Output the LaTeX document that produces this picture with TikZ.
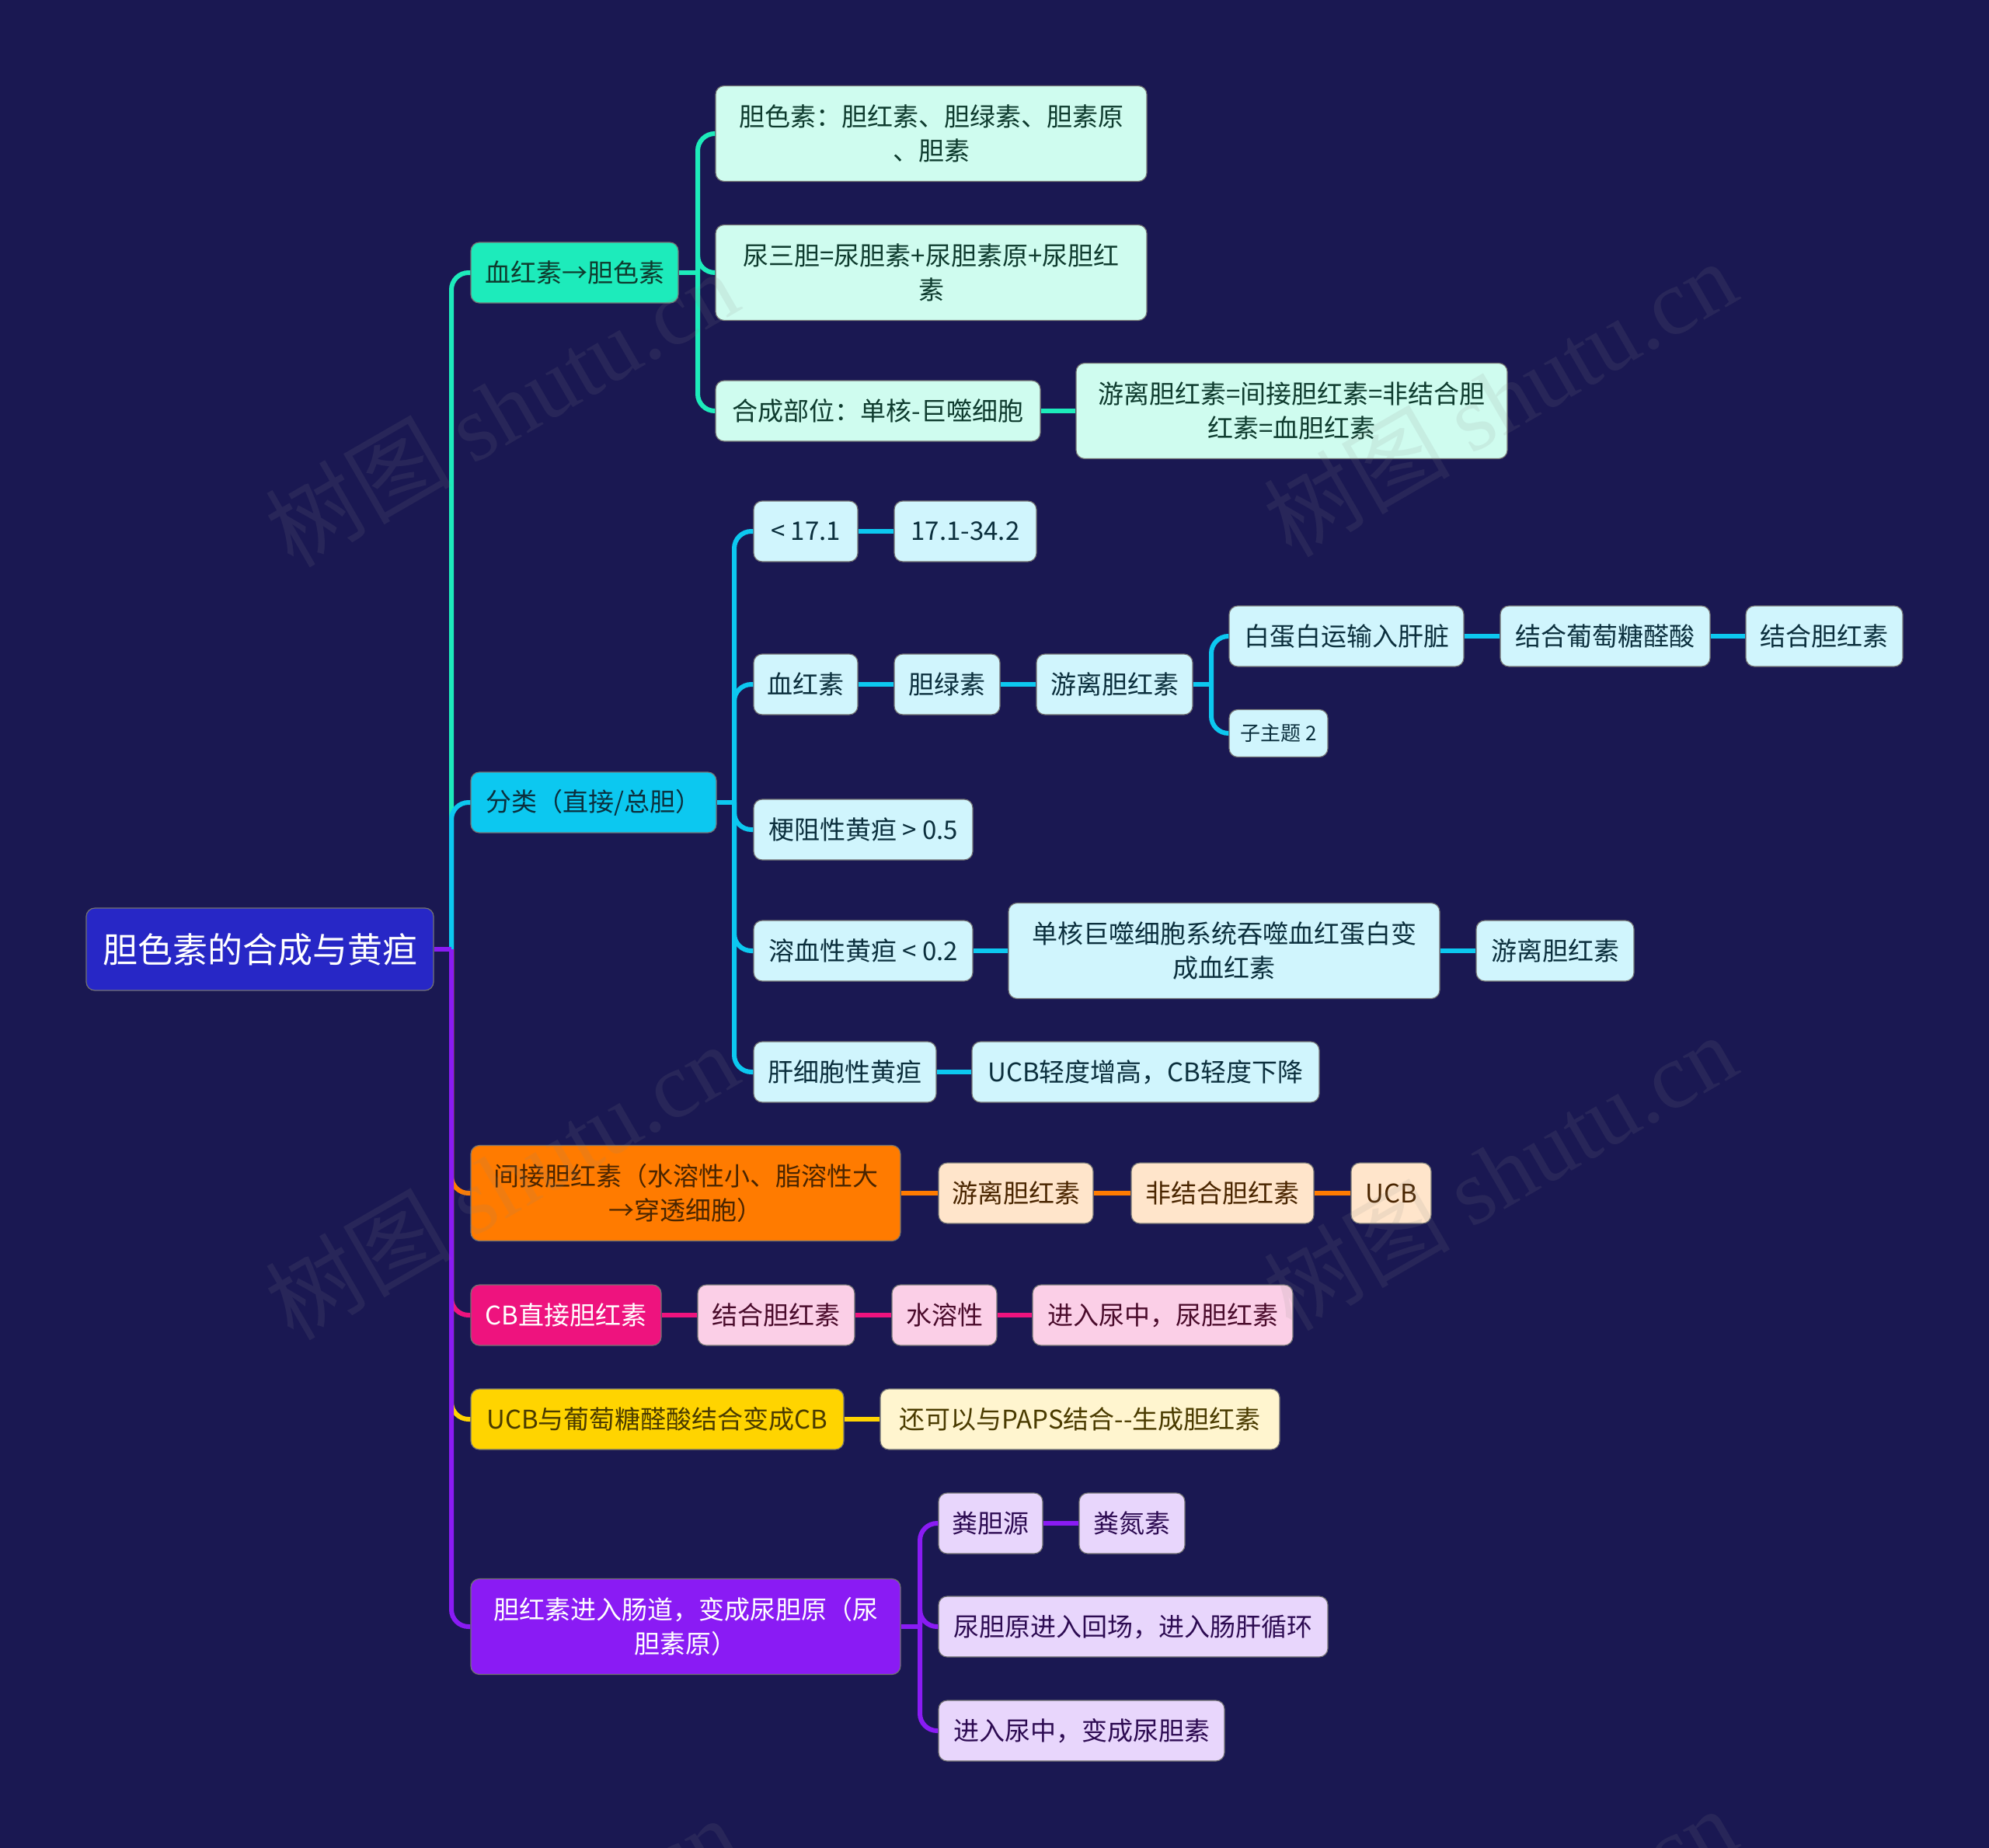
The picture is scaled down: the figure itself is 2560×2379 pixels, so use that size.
\documentclass[tikz,border=0pt]{standalone}
\usepackage{fontspec}
\setmainfont{Noto Sans CJK SC}
\newfontfamily\wmserif{Liberation Serif}
\usetikzlibrary{calc}
\definecolor{bg}{HTML}{1A1852}
\definecolor{cRoot}{HTML}{2727C6}
\definecolor{cTeal}{HTML}{1DEBBB}
\definecolor{lTeal}{HTML}{CFFCEF}
\definecolor{tTeal}{HTML}{0E3B2E}
\definecolor{cCyan}{HTML}{0CC8F0}
\definecolor{lCyan}{HTML}{D0F5FD}
\definecolor{tCyan}{HTML}{0B2F3D}
\definecolor{cOrange}{HTML}{FF7B00}
\definecolor{lOrange}{HTML}{FFE5CB}
\definecolor{tOrange}{HTML}{4A2500}
\definecolor{cPink}{HTML}{EE137E}
\definecolor{lPink}{HTML}{FBCFE7}
\definecolor{tPink}{HTML}{4A0B2B}
\definecolor{cYellow}{HTML}{FFD400}
\definecolor{lYellow}{HTML}{FFF5CF}
\definecolor{tYellow}{HTML}{4A3B00}
\definecolor{cPurple}{HTML}{8A1BF4}
\definecolor{lPurple}{HTML}{E8D6FC}
\definecolor{tPurple}{HTML}{2D0B52}
\definecolor{wmgray}{HTML}{8A8A8A}
\begin{document}
\begin{tikzpicture}[x=1pt,y=-1pt,
  box/.style={rounded corners=11pt, inner sep=0pt, align=center, minimum height=78pt,
    font=\fontsize{33}{44}\selectfont, draw=black!55, line width=1.2pt},
  tall/.style={minimum height=123pt},
  w/.style={minimum width=#1pt},
  conn/.style={line width=6pt, draw=#1, rounded corners=22pt},
  wm/.style={rotate=30, text=wmgray, opacity=0.13, inner sep=0pt,
    font=\fontsize{120}{120}\selectfont}
]
\useasboundingbox (0,0) rectangle (2560,2379);
\fill[bg] (0,0) rectangle (2560,2379);

% ---- root
\node[box, fill=cRoot, text=white, w=447, minimum height=106pt,
  font=\fontsize{45}{54}\selectfont] (root) at (334.5,1222) {胆色素的合成与黄疸};

% ---- level 1
\node[box, fill=cTeal, text=tTeal, w=267] (a) at (739.5,351) {血红素→胆色素};
\node[box, fill=cCyan, text=tCyan, w=316] (b) at (764,1033) {分类（直接/总胆）};
\node[box, fill=cOrange, text=tOrange, w=553, tall] (c) at (882.5,1536) {间接胆红素（水溶性小、脂溶性大\\→穿透细胞）};
\node[box, fill=cPink, text=white, w=245] (d) at (728.5,1693) {CB直接胆红素};
\node[box, fill=cYellow, text=tYellow, w=480] (e) at (846,1827) {UCB与葡萄糖醛酸结合变成CB};
\node[box, fill=cPurple, text=white, w=553, tall] (f) at (882.5,2094) {胆红素进入肠道，变成尿胆原（尿\\胆素原）};

% ---- teal branch
\node[box, fill=lTeal, text=tTeal, w=555, tall] (a1) at (1198.5,172) {胆色素：胆红素、胆绿素、胆素原\\、胆素};
\node[box, fill=lTeal, text=tTeal, w=555, tall] (a2) at (1198.5,351) {尿三胆=尿胆素+尿胆素原+尿胆红\\素};
\node[box, fill=lTeal, text=tTeal, w=418] (a3) at (1130,529) {合成部位：单核-巨噬细胞};
\node[box, fill=lTeal, text=tTeal, w=555, tall] (a3a) at (1662.5,529) {游离胆红素=间接胆红素=非结合胆\\红素=血胆红素};

% ---- cyan branch
\node[box, fill=lCyan, text=tCyan, w=134] (b1) at (1037,684) {< 17.1};
\node[box, fill=lCyan, text=tCyan, w=183] (b1a) at (1242.5,684) {17.1-34.2};
\node[box, fill=lCyan, text=tCyan, w=134] (b2) at (1037,881) {血红素};
\node[box, fill=lCyan, text=tCyan, w=136] (b2a) at (1219,881) {胆绿素};
\node[box, fill=lCyan, text=tCyan, w=201] (b2b) at (1434.5,881) {游离胆红素};
\node[box, fill=lCyan, text=tCyan, w=302] (b2b1) at (1733,819) {白蛋白运输入肝脏};
\node[box, fill=lCyan, text=tCyan, w=270] (b2b1a) at (2066,819) {结合葡萄糖醛酸};
\node[box, fill=lCyan, text=tCyan, w=202] (b2b1b) at (2348,819) {结合胆红素};
\node[box, fill=lCyan, text=tCyan, w=127, minimum height=61pt,
  font=\fontsize{26}{32}\selectfont] (b2b2) at (1645.5,944) {子主题 2};
\node[box, fill=lCyan, text=tCyan, w=282] (b3) at (1111,1068) {梗阻性黄疸 > 0.5};
\node[box, fill=lCyan, text=tCyan, w=282] (b4) at (1111,1224) {溶血性黄疸 < 0.2};
\node[box, fill=lCyan, text=tCyan, w=555, tall] (b4a) at (1575.5,1224) {单核巨噬细胞系统吞噬血红蛋白变\\成血红素};
\node[box, fill=lCyan, text=tCyan, w=203] (b4b) at (2001.5,1224) {游离胆红素};
\node[box, fill=lCyan, text=tCyan, w=235] (b5) at (1087.5,1380) {肝细胞性黄疸};
\node[box, fill=lCyan, text=tCyan, w=447] (b5a) at (1474.5,1380) {UCB轻度增高，CB轻度下降};

% ---- orange branch
\node[box, fill=lOrange, text=tOrange, w=199] (c1) at (1307.5,1536) {游离胆红素};
\node[box, fill=lOrange, text=tOrange, w=235] (c2) at (1573.5,1536) {非结合胆红素};
\node[box, fill=lOrange, text=tOrange, w=103] (c3) at (1790.5,1536) {UCB};

% ---- pink branch
\node[box, fill=lPink, text=tPink, w=202] (d1) at (999,1693) {结合胆红素};
\node[box, fill=lPink, text=tPink, w=135] (d2) at (1215.5,1693) {水溶性};
\node[box, fill=lPink, text=tPink, w=335] (d3) at (1496.5,1693) {进入尿中，尿胆红素};

% ---- yellow branch
\node[box, fill=lYellow, text=tYellow, w=514] (e1) at (1390,1827) {还可以与PAPS结合-{}-生成胆红素};

% ---- purple branch
\node[box, fill=lPurple, text=tPurple, w=134] (f1) at (1275,1961) {粪胆源};
\node[box, fill=lPurple, text=tPurple, w=136] (f1a) at (1457,1961) {粪氮素};
\node[box, fill=lPurple, text=tPurple, w=501] (f2) at (1458.5,2094) {尿胆原进入回场，进入肠肝循环};
\node[box, fill=lPurple, text=tPurple, w=368] (f3) at (1392,2228) {进入尿中，变成尿胆素};

% ---- bus coordinates
\coordinate (rb) at (581,1222);
\coordinate (ab) at (898,351);
\coordinate (bb) at (945,1033);
\coordinate (gb) at (1559,881);
\coordinate (fb) at (1184,2094);

% ---- connectors from root
\draw[conn=cTeal] (rb) |- (a.west);
\draw[conn=cCyan] (rb) |- (b.west);
\draw[conn=cOrange] (rb) |- (c.west);
\draw[conn=cPink] (rb) |- (d.west);
\draw[conn=cYellow] (rb) |- (e.west);
\draw[conn=cPurple] (rb) |- (f.west);
\draw[conn=cPurple] (root.east) -- (rb);

% teal
\draw[conn=cTeal] (a.east) -- (ab);
\draw[conn=cTeal] (ab) |- (a1.west);
\draw[conn=cTeal] (ab) |- (a2.west);
\draw[conn=cTeal] (ab) |- (a3.west);
\draw[conn=cTeal] (a3.east) -- (a3a.west);

% cyan
\draw[conn=cCyan] (b.east) -- (bb);
\draw[conn=cCyan] (bb) |- (b1.west);
\draw[conn=cCyan] (bb) |- (b2.west);
\draw[conn=cCyan] (bb) |- (b3.west);
\draw[conn=cCyan] (bb) |- (b4.west);
\draw[conn=cCyan] (bb) |- (b5.west);
\draw[conn=cCyan] (b1.east) -- (b1a.west);
\draw[conn=cCyan] (b2.east) -- (b2a.west);
\draw[conn=cCyan] (b2a.east) -- (b2b.west);
\draw[conn=cCyan] (b2b.east) -- (gb);
\draw[conn=cCyan] (gb) |- (b2b1.west);
\draw[conn=cCyan] (gb) |- (b2b2.west);
\draw[conn=cCyan] (b2b1.east) -- (b2b1a.west);
\draw[conn=cCyan] (b2b1a.east) -- (b2b1b.west);
\draw[conn=cCyan] (b4.east) -- (b4a.west);
\draw[conn=cCyan] (b4a.east) -- (b4b.west);
\draw[conn=cCyan] (b5.east) -- (b5a.west);

% orange
\draw[conn=cOrange] (c.east) -- (c1.west);
\draw[conn=cOrange] (c1.east) -- (c2.west);
\draw[conn=cOrange] (c2.east) -- (c3.west);

% pink
\draw[conn=cPink] (d.east) -- (d1.west);
\draw[conn=cPink] (d1.east) -- (d2.west);
\draw[conn=cPink] (d2.east) -- (d3.west);

% yellow
\draw[conn=cYellow] (e.east) -- (e1.west);

% purple
\draw[conn=cPurple] (f.east) -- (fb);
\draw[conn=cPurple] (fb) |- (f1.west);
\draw[conn=cPurple] (fb) |- (f2.west);
\draw[conn=cPurple] (fb) |- (f3.west);
\draw[conn=cPurple] (f1.east) -- (f1a.west);

% ---- watermarks
\begin{scope}
\clip (0,0) rectangle (2560,2379);
\node[wm] (wm1) at (645,525) {树图 {\wmserif shutu.cn}};
\node[wm] (wm2) at (1930,512) {树图 {\wmserif shutu.cn}};
\node[wm] (wm3) at (645,1520) {树图 {\wmserif shutu.cn}};
\node[wm] (wm4) at (1930,1508) {树图 {\wmserif shutu.cn}};
\node[wm] (wm5) at (645,2516) {树图 {\wmserif shutu.cn}};
\node[wm] (wm6) at (1930,2504) {树图 {\wmserif shutu.cn}};
\end{scope}
\end{tikzpicture}
\end{document}
